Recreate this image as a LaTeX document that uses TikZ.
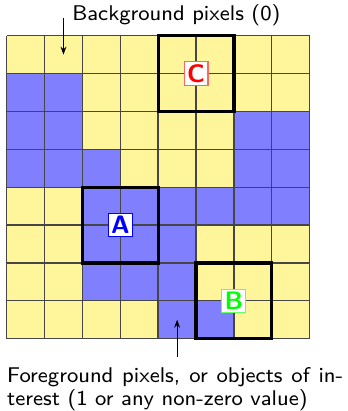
\documentclass[tikz,border=0pt]{standalone}
\usetikzlibrary{arrows.meta}
\definecolor{c0}{RGB}{255,245,155}
\definecolor{c1}{RGB}{128,128,255}
\definecolor{gridgray}{RGB}{70,70,70}
\tikzset{
  gridline/.style={draw=gridgray, line width=0.5pt},
  roibox/.style={draw=black, line width=1.2pt},
  tag/.style={font=\fontsize{9.5}{10}\selectfont\sffamily\bfseries, fill=white, line width=0.4pt, inner sep=1pt, minimum width=9pt, minimum height=8.6pt},
  caption/.style={font=\fontsize{8}{8.8}\selectfont\sffamily, inner sep=0pt},
  pointer/.style={line width=0.4pt, -{Stealth[length=3pt,width=2.2pt]}},
}
\begin{document}
\begin{tikzpicture}[x=0.5cm, y=0.5cm]
\useasboundingbox (-0.176,-1.91) rectangle (9.012,8.942);
\foreach \row [count=\r from 0] in {{0,0,0,0,0,0,0,0},{1,1,0,0,0,0,0,0},{1,1,0,0,0,0,1,1},{1,1,1,0,0,0,1,1},{0,0,1,1,1,1,1,1},{0,0,1,1,1,0,0,0},{0,0,1,1,1,0,0,0},{0,0,0,0,1,1,0,0}}{
  \foreach \v [count=\c from 0] in \row {
    \fill[c\v] (\c,7-\r) rectangle ++(1,1);
  }
}
\foreach \k in {0,...,8} {
  \draw[gridline] (\k,0) -- (\k,8);
  \draw[gridline] (0,\k) -- (8,\k);
}
\draw[roibox] (4,6) rectangle (6,8);
\draw[roibox] (2,2) rectangle (4,4);
\draw[roibox] (5,0) rectangle (7,2);
\node[tag, text=red, draw=red!60] (C) at (5,7) {C};
\node[tag, text=blue, draw=blue] (A) at (3,3) {A};
\node[tag, text=green, draw=green!60] (B) at (6,1) {B};
\node[caption] (bg) at (4.48,8.55) {Background pixels (0)};
\coordinate (bgfrom) at (1.5,8.47);
\coordinate (bgto) at (1.5,7.5);
\draw[pointer] (bgfrom) -- (bgto);
\node[caption, anchor=north west, text width=4.436cm, align=justify] (fg) at (0,-0.74) {Foreground pixels, or objects of in-\linebreak terest (1 or any non-zero value)};
\coordinate (fgfrom) at (4.5,-0.48);
\coordinate (fgto) at (4.5,0.5);
\draw[pointer] (fgfrom) -- (fgto);
\end{tikzpicture}
\end{document}
